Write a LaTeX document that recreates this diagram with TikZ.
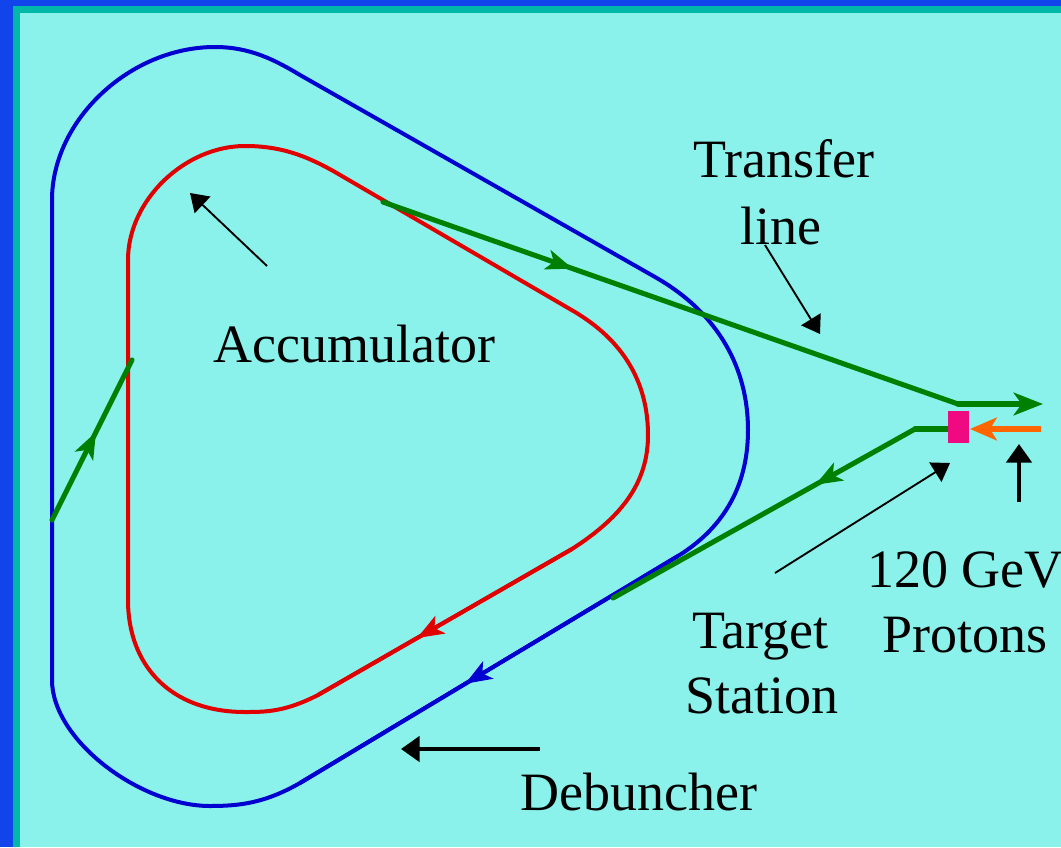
\documentclass[tikz,border=0pt]{standalone}
\usepackage{fontspec}
\setmainfont{Liberation Serif}
\usetikzlibrary{arrows.meta,decorations.markings}
\definecolor{frameblue}{RGB}{18,68,236}
\definecolor{frameteal}{RGB}{0,184,170}
\definecolor{bgcyan}{RGB}{138,242,234}
\definecolor{ringblue}{RGB}{0,0,208}
\definecolor{ringred}{RGB}{224,0,0}
\definecolor{beamgreen}{RGB}{0,128,0}
\definecolor{targetpink}{RGB}{240,10,130}
\definecolor{protonorange}{RGB}{255,102,0}
\begin{document}
\begin{tikzpicture}[x=0.75pt,y=-0.75pt,
  ring/.style={line width=3pt, line join=round},
  beam/.style={draw=beamgreen, line width=3.8pt, line join=round, line cap=round},
  flowtip/.style={postaction={decorate}, decoration={markings,
     mark=at position #1 with {\arrow{Stealth[length=20pt,width=15pt,inset=5pt]}}}},
  lbl/.style={anchor=base west, inner sep=0pt, font=\fontsize{40.5}{48}\selectfont},
  pointer/.style={line width=1.4pt, -{Triangle[length=13pt,width=17pt]}},
  bigpointer/.style={line width=3pt, -{Triangle[length=14pt,width=19pt]}}]
\useasboundingbox (0,0) rectangle (1061,847);
% frame and background
\fill[frameblue] (0,0) rectangle (1061,847);
\fill[frameteal] (13,6) rectangle (1061,847);
\fill[bgcyan] (20,13) rectangle (1061,847);

% Debuncher ring
\draw[ring, ringblue] (52,680) -- (52,200)
  .. controls (52,120) and (130,47) .. (215,47)
  .. controls (250,47) and (275,60) .. (300,75)
  -- (655,277)
  .. controls (720,314) and (748,370) .. (748,430)
  .. controls (748,490) and (720,530) .. (678,556)
  -- (300,783)
  .. controls (265,803) and (240,806) .. (210,806)
  .. controls (140,806) and (52,740) .. (52,680) -- cycle;
\coordinate (db1) at (678,556);
\coordinate (db2) at (300,783);
\draw[ring, ringblue, flowtip=0.563] (db1) -- (db2);

% Accumulator ring
\draw[ring, ringred] (128,600) -- (128,260)
  .. controls (128,200) and (185,146) .. (245,146)
  .. controls (280,146) and (305,155) .. (335,172)
  -- (575,312)
  .. controls (630,345) and (648,390) .. (648,435)
  .. controls (648,480) and (625,515) .. (572,549)
  -- (318,695)
  .. controls (285,712) and (265,712) .. (245,712)
  .. controls (170,712) and (128,665) .. (128,600) -- cycle;
\coordinate (ac1) at (572,549);
\coordinate (ac2) at (318,695);
\draw[ring, ringred, flowtip=0.61] (ac1) -- (ac2);

% green beam lines
\coordinate (tlStart) at (383,202);
\coordinate (tlBend) at (958,404);
\coordinate (tlEnd) at (1043,404);
\draw[beam, flowtip=0.33] (tlStart) -- (tlBend);
\draw[beam, -{Stealth[length=22pt,width=17pt,inset=6pt]}] (tlBend) -- (tlEnd);

\coordinate (tgOut) at (948,429);
\coordinate (tgBend) at (915,429);
\coordinate (tgJoin) at (613,598);
\draw[beam] (tgOut) -- (tgBend);
\draw[beam, flowtip=0.33] (tgBend) -- (tgJoin);

\coordinate (injA) at (52,520);
\coordinate (injB) at (132,360);
\draw[beam, flowtip=0.55] (injA) -- (injB);

% protons and target
\coordinate (prStart) at (1041,429);
\coordinate (prEnd) at (970,429);
\draw[protonorange, line width=4.5pt, -{Stealth[length=20pt,width=17pt,inset=5pt]}] (prStart) -- (prEnd);
\fill[targetpink] (948,411) rectangle (969,443);

% labels
\node[lbl] (acc) at (213,362) {Accumulator};
\node[lbl] (tr1) at (693,177) {Transfer};
\node[lbl] (tr2) at (740,244) {line};
\node[lbl] (gev) at (867,587) {120 GeV};
\node[lbl] (pro) at (882,652) {Protons};
\node[lbl] (ts1) at (692,648) {Target};
\node[lbl] (ts2) at (685,713) {Station};
\node[lbl] (deb) at (520,810) {Debuncher};

% pointers
\coordinate (accTail) at (267,266);
\coordinate (accTip) at (190,193);
\draw[pointer] (accTail) -- (accTip);
\coordinate (trTail) at (765,245);
\coordinate (trTip) at (820,334);
\draw[pointer] (trTail) -- (trTip);
\coordinate (tsTail) at (775,573);
\coordinate (tsTip) at (950,463);
\draw[pointer] (tsTail) -- (tsTip);
\coordinate (prTail) at (1019,502);
\coordinate (prTip) at (1019,444);
\draw[bigpointer] (prTail) -- (prTip);
\coordinate (dbTail) at (540,749);
\coordinate (dbTip) at (401,749);
\draw[bigpointer] (dbTail) -- (dbTip);
\end{tikzpicture}
\end{document}
